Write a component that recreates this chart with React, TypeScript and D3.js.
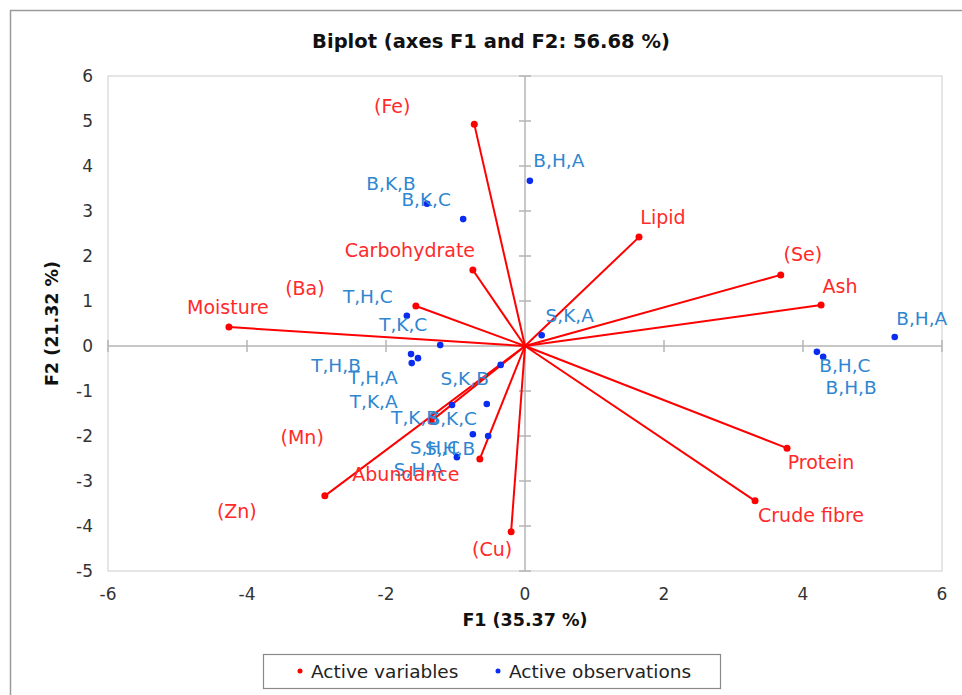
import React from "react";
import * as d3 from "d3";

const variableNames = ["Moisture", "(Ba)", "Carbohydrate", "(Fe)", "Lipid", "(Se)", "Ash", "Protein", "Crude fibre", "(Cu)", "Abundance", "(Zn)", "(Mn)"];
const variableF1 = [-4.26, -1.57, -0.75, -0.73, 1.64, 3.68, 4.26, 3.77, 3.31, -0.2, -0.65, -2.88, -1.35];
const variableF2 = [0.42, 0.89, 1.69, 4.93, 2.42, 1.58, 0.91, -2.27, -3.44, -4.13, -2.51, -3.33, -1.67];

const observationNames = ["B,H,A", "B,K,B", "B,K,C", "T,H,C", "T,K,C", "S,K,A", "B,H,A", "B,H,C", "B,H,B", "T,H,B", "T,H,A", "T,K,A", "S,K,B", "T,K,B", "S,K,C", "S,H,C", "S,H,B", "S,H,A"];
const observationF1 = [0.07, -1.41, -0.89, -1.7, -1.22, 0.24, 5.32, 4.2, 4.29, -1.64, -1.54, -1.63, -0.35, -1.05, -0.55, -0.75, -0.53, -0.98];
const observationF2 = [3.67, 3.16, 2.82, 0.67, 0.02, 0.24, 0.2, -0.13, -0.24, -0.18, -0.27, -0.38, -0.42, -1.31, -1.29, -1.96, -2.0, -2.47];

const xTicks = [-6, -4, -2, 0, 2, 4, 6];
const yTicks = [-5, -4, -3, -2, -1, 0, 1, 2, 3, 4, 5, 6];

const titleText = "Biplot (axes F1 and F2: 56.68 %)";
const xTitle = "F1 (35.37 %)";
const yTitle = "F2 (21.32 %)";
const legendLabels = ["Active variables", "Active observations"];

// label placement offsets (pixels, layout only)
const varLabelOffsets: [number, number][] = [
  [-1, -20], [-111, -18], [-63, -20], [-82, -18], [24, -20], [22, -21], [19, -19],
  [34, 14], [56, 14], [-19, 17], [-74, 15], [-88, 15], [-129, 16],
];
const obsLabelOffsets: [number, number][] = [
  [29, -20], [-36, -20], [-37, -20], [-39, -19], [-37, -21], [28, -20], [27, -19],
  [28, 14], [28, 31], [-75, 11], [-45, 19], [-38, 38], [-36, 14], [-37, 13],
  [-34, 14], [-38, 13], [-38, 12], [-38, 12],
];

const W = 962;
const H = 695;
const FONT = "'DejaVu Sans', Verdana, sans-serif";

export default function App() {
  const x = d3.scaleLinear().domain([-6, 6]).range([108, 942]);
  const y = d3.scaleLinear().domain([-5, 6]).range([571, 76]);
  const red = "#ff0000";
  const redText = "#ff2a2a";
  const blue = "#0a2cf0";
  const blueText = "#2f86d0";

  return (
    <svg width={W} height={H} style={{ position: "absolute", left: 0, top: 0, background: "#fff" }} fontFamily={FONT}>
      <rect x={0} y={0} width={W} height={H} fill="#fff" />
      {/* outer frame */}
      <line x1={10} y1={10.5} x2={W} y2={10.5} stroke="#9a9a9a" strokeWidth={1.5} />
      <line x1={10.5} y1={10} x2={10.5} y2={H} stroke="#9a9a9a" strokeWidth={1.5} />

      <text x={491} y={41} textAnchor="middle" dominantBaseline="central" fontWeight="bold" fontSize={19.5} fill="#111">
        {titleText}
      </text>

      {/* plot box */}
      <rect x={x(-6)} y={y(6)} width={x(6) - x(-6)} height={y(-5) - y(6)} fill="none" stroke="#d4d4d4" strokeWidth={1.2} />
      {/* zero axes */}
      <line x1={x(-6)} x2={x(6)} y1={y(0)} y2={y(0)} stroke="#b5b5b5" strokeWidth={1.5} />
      <line x1={x(0)} x2={x(0)} y1={y(6)} y2={y(-5)} stroke="#b5b5b5" strokeWidth={1.5} />
      {yTicks.map((t) => (
        <line key={"yt" + t} x1={x(0) - 6} x2={x(0) + 6} y1={y(t)} y2={y(t)} stroke="#b5b5b5" strokeWidth={1.5} />
      ))}
      {xTicks.map((t) => (
        <line key={"xt" + t} x1={x(t)} x2={x(t)} y1={y(0) - 6} y2={y(0) + 6} stroke="#b5b5b5" strokeWidth={1.5} />
      ))}

      {/* tick labels */}
      {xTicks.map((t) => (
        <text key={"xl" + t} x={x(t)} y={594} textAnchor="middle" dominantBaseline="central" fontSize={17} fill="#333">
          {t}
        </text>
      ))}
      {yTicks.map((t) => (
        <text key={"yl" + t} x={93} y={y(t)} textAnchor="end" dominantBaseline="central" fontSize={17} fill="#333">
          {t}
        </text>
      ))}

      <text x={x(0)} y={620} textAnchor="middle" dominantBaseline="central" fontWeight="bold" fontSize={17.5} fill="#111">
        {xTitle}
      </text>
      <text transform={`translate(52,${(y(6) + y(-5)) / 2}) rotate(-90)`} textAnchor="middle" dominantBaseline="central" fontWeight="bold" fontSize={17.5} fill="#111">
        {yTitle}
      </text>

      {/* variable vectors */}
      {variableNames.map((n, i) => (
        <line key={"vl" + i} x1={x(0)} y1={y(0)} x2={x(variableF1[i])} y2={y(variableF2[i])} stroke={red} strokeWidth={2} />
      ))}
      {variableNames.map((n, i) => (
        <circle key={"vc" + i} cx={x(variableF1[i])} cy={y(variableF2[i])} r={3.5} fill={red} />
      ))}

      {/* observations */}
      {observationNames.map((n, i) => (
        <circle key={"oc" + i} cx={x(observationF1[i])} cy={y(observationF2[i])} r={3.3} fill={blue} />
      ))}
      {observationNames.map((n, i) => (
        <text key={"ot" + i} x={x(observationF1[i]) + obsLabelOffsets[i][0]} y={y(observationF2[i]) + obsLabelOffsets[i][1]} textAnchor="middle" dominantBaseline="central" fontSize={18.5} fill={blueText}>
          {n}
        </text>
      ))}
      {variableNames.map((n, i) => (
        <text key={"vt" + i} x={x(variableF1[i]) + varLabelOffsets[i][0]} y={y(variableF2[i]) + varLabelOffsets[i][1]} textAnchor="middle" dominantBaseline="central" fontSize={19} fill={redText}>
          {n}
        </text>
      ))}

      {/* legend */}
      <rect x={263.5} y={654.5} width={457} height={34} fill="#fff" stroke="#8a8a8a" strokeWidth={1.2} />
      <circle cx={300} cy={671} r={2.5} fill={red} />
      <text x={311} y={671} dominantBaseline="central" fontSize={18.5} fill="#222">{legendLabels[0]}</text>
      <circle cx={498} cy={671} r={2.5} fill={blue} />
      <text x={509} y={671} dominantBaseline="central" fontSize={18.5} fill="#222">{legendLabels[1]}</text>
    </svg>
  );
}
